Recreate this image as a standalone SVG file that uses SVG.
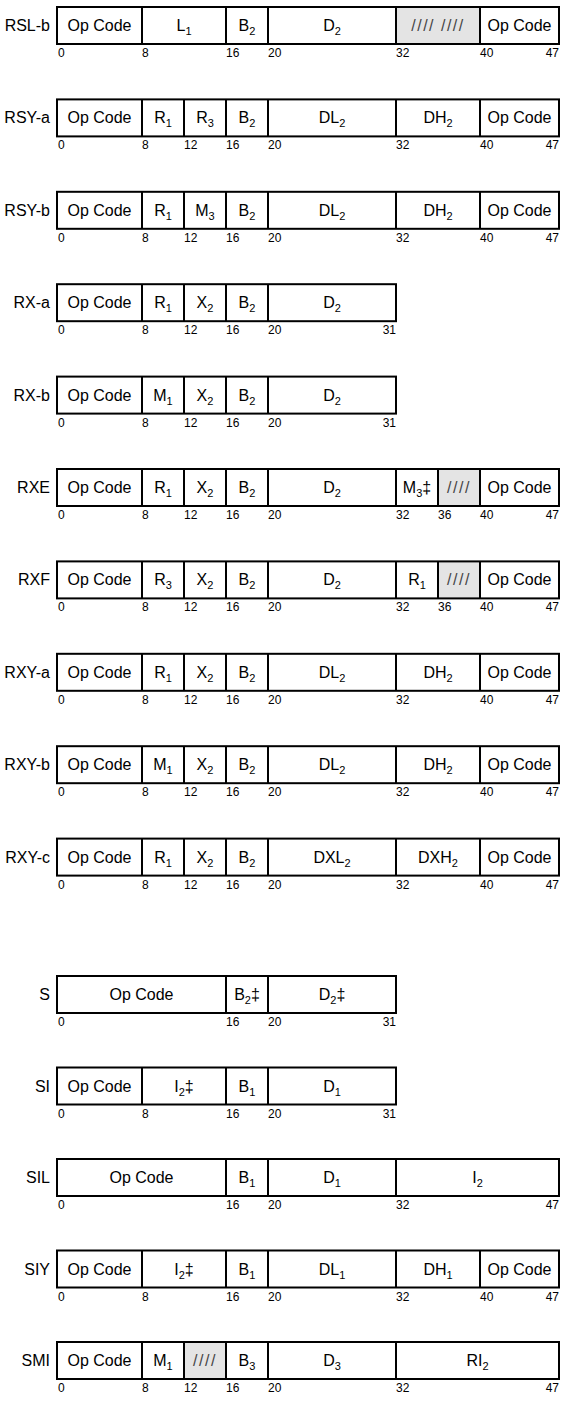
<svg xmlns="http://www.w3.org/2000/svg" width="566" height="1404" viewBox="0 0 566 1404">
<style>
text{font-family:"Liberation Sans Narrow","Arial Narrow","Liberation Sans",Arial,sans-serif;fill:#000}
.n{font-size:16px;text-anchor:end}
.f{font-size:16px;text-anchor:middle}
.s{font-size:11px}
.b{font-size:12px}
.e{text-anchor:end}
.o{fill:none;stroke:#000;stroke-width:2}
.d{fill:none;stroke:#000;stroke-width:2}
.g{fill:#e4e4e4}
.r{fill:#444;letter-spacing:1.5px}
</style>
<rect width="566" height="1404" fill="#fff"/>

<g id="RSL-b" transform="translate(0,7)">
<text class="n" x="50" y="24">RSL-b</text>
<rect class="g" x="396" y="0" width="84" height="37"/>
<rect class="o" x="57" y="0" width="502" height="37"/>
<path class="d" d="M142 0V37M226 0V37M268 0V37M396 0V37M480 0V37"/>
<text class="f" x="99.5" y="24">Op Code</text>
<text class="f" x="184" y="24">L<tspan class="s" dy="4">1</tspan></text>
<text class="f" x="247" y="24">B<tspan class="s" dy="4">2</tspan></text>
<text class="f" x="332" y="24">D<tspan class="s" dy="4">2</tspan></text>
<text class="f r" x="438" y="24">//// ////</text>
<text class="f" x="519.5" y="24">Op Code</text>
<text class="b" x="58" y="50">0</text><text class="b" x="142" y="50">8</text><text class="b" x="226" y="50">16</text><text class="b" x="268" y="50">20</text><text class="b" x="396" y="50">32</text><text class="b" x="480" y="50">40</text><text class="b e" x="559" y="50">47</text>
</g>

<g id="RSY-a" transform="translate(0,99.4)">
<text class="n" x="50" y="24">RSY-a</text>
<rect class="o" x="57" y="0" width="502" height="37"/>
<path class="d" d="M142 0V37M184 0V37M226 0V37M268 0V37M396 0V37M480 0V37"/>
<text class="f" x="99.5" y="24">Op Code</text>
<text class="f" x="163" y="24">R<tspan class="s" dy="4">1</tspan></text>
<text class="f" x="205" y="24">R<tspan class="s" dy="4">3</tspan></text>
<text class="f" x="247" y="24">B<tspan class="s" dy="4">2</tspan></text>
<text class="f" x="332" y="24">DL<tspan class="s" dy="4">2</tspan></text>
<text class="f" x="438" y="24">DH<tspan class="s" dy="4">2</tspan></text>
<text class="f" x="519.5" y="24">Op Code</text>
<text class="b" x="58" y="50">0</text><text class="b" x="142" y="50">8</text><text class="b" x="184" y="50">12</text><text class="b" x="226" y="50">16</text><text class="b" x="268" y="50">20</text><text class="b" x="396" y="50">32</text><text class="b" x="480" y="50">40</text><text class="b e" x="559" y="50">47</text>
</g>

<g id="RSY-b" transform="translate(0,191.8)">
<text class="n" x="50" y="24">RSY-b</text>
<rect class="o" x="57" y="0" width="502" height="37"/>
<path class="d" d="M142 0V37M184 0V37M226 0V37M268 0V37M396 0V37M480 0V37"/>
<text class="f" x="99.5" y="24">Op Code</text>
<text class="f" x="163" y="24">R<tspan class="s" dy="4">1</tspan></text>
<text class="f" x="205" y="24">M<tspan class="s" dy="4">3</tspan></text>
<text class="f" x="247" y="24">B<tspan class="s" dy="4">2</tspan></text>
<text class="f" x="332" y="24">DL<tspan class="s" dy="4">2</tspan></text>
<text class="f" x="438" y="24">DH<tspan class="s" dy="4">2</tspan></text>
<text class="f" x="519.5" y="24">Op Code</text>
<text class="b" x="58" y="50">0</text><text class="b" x="142" y="50">8</text><text class="b" x="184" y="50">12</text><text class="b" x="226" y="50">16</text><text class="b" x="268" y="50">20</text><text class="b" x="396" y="50">32</text><text class="b" x="480" y="50">40</text><text class="b e" x="559" y="50">47</text>
</g>

<g id="RX-a" transform="translate(0,284.2)">
<text class="n" x="50" y="24">RX-a</text>
<rect class="o" x="57" y="0" width="339" height="37"/>
<path class="d" d="M142 0V37M184 0V37M226 0V37M268 0V37"/>
<text class="f" x="99.5" y="24">Op Code</text>
<text class="f" x="163" y="24">R<tspan class="s" dy="4">1</tspan></text>
<text class="f" x="205" y="24">X<tspan class="s" dy="4">2</tspan></text>
<text class="f" x="247" y="24">B<tspan class="s" dy="4">2</tspan></text>
<text class="f" x="332" y="24">D<tspan class="s" dy="4">2</tspan></text>
<text class="b" x="58" y="50">0</text><text class="b" x="142" y="50">8</text><text class="b" x="184" y="50">12</text><text class="b" x="226" y="50">16</text><text class="b" x="268" y="50">20</text><text class="b e" x="396" y="50">31</text>
</g>

<g id="RX-b" transform="translate(0,376.6)">
<text class="n" x="50" y="24">RX-b</text>
<rect class="o" x="57" y="0" width="339" height="37"/>
<path class="d" d="M142 0V37M184 0V37M226 0V37M268 0V37"/>
<text class="f" x="99.5" y="24">Op Code</text>
<text class="f" x="163" y="24">M<tspan class="s" dy="4">1</tspan></text>
<text class="f" x="205" y="24">X<tspan class="s" dy="4">2</tspan></text>
<text class="f" x="247" y="24">B<tspan class="s" dy="4">2</tspan></text>
<text class="f" x="332" y="24">D<tspan class="s" dy="4">2</tspan></text>
<text class="b" x="58" y="50">0</text><text class="b" x="142" y="50">8</text><text class="b" x="184" y="50">12</text><text class="b" x="226" y="50">16</text><text class="b" x="268" y="50">20</text><text class="b e" x="396" y="50">31</text>
</g>

<g id="RXE" transform="translate(0,469)">
<text class="n" x="50" y="24">RXE</text>
<rect class="g" x="438" y="0" width="42" height="37"/>
<rect class="o" x="57" y="0" width="502" height="37"/>
<path class="d" d="M142 0V37M184 0V37M226 0V37M268 0V37M396 0V37M438 0V37M480 0V37"/>
<text class="f" x="99.5" y="24">Op Code</text>
<text class="f" x="163" y="24">R<tspan class="s" dy="4">1</tspan></text>
<text class="f" x="205" y="24">X<tspan class="s" dy="4">2</tspan></text>
<text class="f" x="247" y="24">B<tspan class="s" dy="4">2</tspan></text>
<text class="f" x="332" y="24">D<tspan class="s" dy="4">2</tspan></text>
<text class="f" x="417" y="24">M<tspan class="s" dy="4">3</tspan><tspan dy="-4">‡</tspan></text>
<text class="f r" x="459" y="24">////</text>
<text class="f" x="519.5" y="24">Op Code</text>
<text class="b" x="58" y="50">0</text><text class="b" x="142" y="50">8</text><text class="b" x="184" y="50">12</text><text class="b" x="226" y="50">16</text><text class="b" x="268" y="50">20</text><text class="b" x="396" y="50">32</text><text class="b" x="438" y="50">36</text><text class="b" x="480" y="50">40</text><text class="b e" x="559" y="50">47</text>
</g>

<g id="RXF" transform="translate(0,561.4)">
<text class="n" x="50" y="24">RXF</text>
<rect class="g" x="438" y="0" width="42" height="37"/>
<rect class="o" x="57" y="0" width="502" height="37"/>
<path class="d" d="M142 0V37M184 0V37M226 0V37M268 0V37M396 0V37M438 0V37M480 0V37"/>
<text class="f" x="99.5" y="24">Op Code</text>
<text class="f" x="163" y="24">R<tspan class="s" dy="4">3</tspan></text>
<text class="f" x="205" y="24">X<tspan class="s" dy="4">2</tspan></text>
<text class="f" x="247" y="24">B<tspan class="s" dy="4">2</tspan></text>
<text class="f" x="332" y="24">D<tspan class="s" dy="4">2</tspan></text>
<text class="f" x="417" y="24">R<tspan class="s" dy="4">1</tspan></text>
<text class="f r" x="459" y="24">////</text>
<text class="f" x="519.5" y="24">Op Code</text>
<text class="b" x="58" y="50">0</text><text class="b" x="142" y="50">8</text><text class="b" x="184" y="50">12</text><text class="b" x="226" y="50">16</text><text class="b" x="268" y="50">20</text><text class="b" x="396" y="50">32</text><text class="b" x="438" y="50">36</text><text class="b" x="480" y="50">40</text><text class="b e" x="559" y="50">47</text>
</g>

<g id="RXY-a" transform="translate(0,653.8)">
<text class="n" x="50" y="24">RXY-a</text>
<rect class="o" x="57" y="0" width="502" height="37"/>
<path class="d" d="M142 0V37M184 0V37M226 0V37M268 0V37M396 0V37M480 0V37"/>
<text class="f" x="99.5" y="24">Op Code</text>
<text class="f" x="163" y="24">R<tspan class="s" dy="4">1</tspan></text>
<text class="f" x="205" y="24">X<tspan class="s" dy="4">2</tspan></text>
<text class="f" x="247" y="24">B<tspan class="s" dy="4">2</tspan></text>
<text class="f" x="332" y="24">DL<tspan class="s" dy="4">2</tspan></text>
<text class="f" x="438" y="24">DH<tspan class="s" dy="4">2</tspan></text>
<text class="f" x="519.5" y="24">Op Code</text>
<text class="b" x="58" y="50">0</text><text class="b" x="142" y="50">8</text><text class="b" x="184" y="50">12</text><text class="b" x="226" y="50">16</text><text class="b" x="268" y="50">20</text><text class="b" x="396" y="50">32</text><text class="b" x="480" y="50">40</text><text class="b e" x="559" y="50">47</text>
</g>

<g id="RXY-b" transform="translate(0,746.2)">
<text class="n" x="50" y="24">RXY-b</text>
<rect class="o" x="57" y="0" width="502" height="37"/>
<path class="d" d="M142 0V37M184 0V37M226 0V37M268 0V37M396 0V37M480 0V37"/>
<text class="f" x="99.5" y="24">Op Code</text>
<text class="f" x="163" y="24">M<tspan class="s" dy="4">1</tspan></text>
<text class="f" x="205" y="24">X<tspan class="s" dy="4">2</tspan></text>
<text class="f" x="247" y="24">B<tspan class="s" dy="4">2</tspan></text>
<text class="f" x="332" y="24">DL<tspan class="s" dy="4">2</tspan></text>
<text class="f" x="438" y="24">DH<tspan class="s" dy="4">2</tspan></text>
<text class="f" x="519.5" y="24">Op Code</text>
<text class="b" x="58" y="50">0</text><text class="b" x="142" y="50">8</text><text class="b" x="184" y="50">12</text><text class="b" x="226" y="50">16</text><text class="b" x="268" y="50">20</text><text class="b" x="396" y="50">32</text><text class="b" x="480" y="50">40</text><text class="b e" x="559" y="50">47</text>
</g>

<g id="RXY-c" transform="translate(0,838.6)">
<text class="n" x="50" y="24">RXY-c</text>
<rect class="o" x="57" y="0" width="502" height="37"/>
<path class="d" d="M142 0V37M184 0V37M226 0V37M268 0V37M396 0V37M480 0V37"/>
<text class="f" x="99.5" y="24">Op Code</text>
<text class="f" x="163" y="24">R<tspan class="s" dy="4">1</tspan></text>
<text class="f" x="205" y="24">X<tspan class="s" dy="4">2</tspan></text>
<text class="f" x="247" y="24">B<tspan class="s" dy="4">2</tspan></text>
<text class="f" x="332" y="24">DXL<tspan class="s" dy="4">2</tspan></text>
<text class="f" x="438" y="24">DXH<tspan class="s" dy="4">2</tspan></text>
<text class="f" x="519.5" y="24">Op Code</text>
<text class="b" x="58" y="50">0</text><text class="b" x="142" y="50">8</text><text class="b" x="184" y="50">12</text><text class="b" x="226" y="50">16</text><text class="b" x="268" y="50">20</text><text class="b" x="396" y="50">32</text><text class="b" x="480" y="50">40</text><text class="b e" x="559" y="50">47</text>
</g>

<g id="S" transform="translate(0,976)">
<text class="n" x="50" y="24">S</text>
<rect class="o" x="57" y="0" width="339" height="37"/>
<path class="d" d="M226 0V37M268 0V37"/>
<text class="f" x="141.5" y="24">Op Code</text>
<text class="f" x="247" y="24">B<tspan class="s" dy="4">2</tspan><tspan dy="-4">‡</tspan></text>
<text class="f" x="332" y="24">D<tspan class="s" dy="4">2</tspan><tspan dy="-4">‡</tspan></text>
<text class="b" x="58" y="50">0</text><text class="b" x="226" y="50">16</text><text class="b" x="268" y="50">20</text><text class="b e" x="396" y="50">31</text>
</g>

<g id="SI" transform="translate(0,1067.5)">
<text class="n" x="50" y="24">SI</text>
<rect class="o" x="57" y="0" width="339" height="37"/>
<path class="d" d="M142 0V37M226 0V37M268 0V37"/>
<text class="f" x="99.5" y="24">Op Code</text>
<text class="f" x="184" y="24">I<tspan class="s" dy="4">2</tspan><tspan dy="-4">‡</tspan></text>
<text class="f" x="247" y="24">B<tspan class="s" dy="4">1</tspan></text>
<text class="f" x="332" y="24">D<tspan class="s" dy="4">1</tspan></text>
<text class="b" x="58" y="50">0</text><text class="b" x="142" y="50">8</text><text class="b" x="226" y="50">16</text><text class="b" x="268" y="50">20</text><text class="b e" x="396" y="50">31</text>
</g>

<g id="SIL" transform="translate(0,1159)">
<text class="n" x="50" y="24">SIL</text>
<rect class="o" x="57" y="0" width="502" height="37"/>
<path class="d" d="M226 0V37M268 0V37M396 0V37"/>
<text class="f" x="141.5" y="24">Op Code</text>
<text class="f" x="247" y="24">B<tspan class="s" dy="4">1</tspan></text>
<text class="f" x="332" y="24">D<tspan class="s" dy="4">1</tspan></text>
<text class="f" x="477.5" y="24">I<tspan class="s" dy="4">2</tspan></text>
<text class="b" x="58" y="50">0</text><text class="b" x="226" y="50">16</text><text class="b" x="268" y="50">20</text><text class="b" x="396" y="50">32</text><text class="b e" x="559" y="50">47</text>
</g>

<g id="SIY" transform="translate(0,1250.5)">
<text class="n" x="50" y="24">SIY</text>
<rect class="o" x="57" y="0" width="502" height="37"/>
<path class="d" d="M142 0V37M226 0V37M268 0V37M396 0V37M480 0V37"/>
<text class="f" x="99.5" y="24">Op Code</text>
<text class="f" x="184" y="24">I<tspan class="s" dy="4">2</tspan><tspan dy="-4">‡</tspan></text>
<text class="f" x="247" y="24">B<tspan class="s" dy="4">1</tspan></text>
<text class="f" x="332" y="24">DL<tspan class="s" dy="4">1</tspan></text>
<text class="f" x="438" y="24">DH<tspan class="s" dy="4">1</tspan></text>
<text class="f" x="519.5" y="24">Op Code</text>
<text class="b" x="58" y="50">0</text><text class="b" x="142" y="50">8</text><text class="b" x="226" y="50">16</text><text class="b" x="268" y="50">20</text><text class="b" x="396" y="50">32</text><text class="b" x="480" y="50">40</text><text class="b e" x="559" y="50">47</text>
</g>

<g id="SMI" transform="translate(0,1342)">
<text class="n" x="50" y="24">SMI</text>
<rect class="g" x="184" y="0" width="42" height="37"/>
<rect class="o" x="57" y="0" width="502" height="37"/>
<path class="d" d="M142 0V37M184 0V37M226 0V37M268 0V37M396 0V37"/>
<text class="f" x="99.5" y="24">Op Code</text>
<text class="f" x="163" y="24">M<tspan class="s" dy="4">1</tspan></text>
<text class="f r" x="205" y="24">////</text>
<text class="f" x="247" y="24">B<tspan class="s" dy="4">3</tspan></text>
<text class="f" x="332" y="24">D<tspan class="s" dy="4">3</tspan></text>
<text class="f" x="477.5" y="24">RI<tspan class="s" dy="4">2</tspan></text>
<text class="b" x="58" y="50">0</text><text class="b" x="142" y="50">8</text><text class="b" x="184" y="50">12</text><text class="b" x="226" y="50">16</text><text class="b" x="268" y="50">20</text><text class="b" x="396" y="50">32</text><text class="b e" x="559" y="50">47</text>
</g>
</svg>
